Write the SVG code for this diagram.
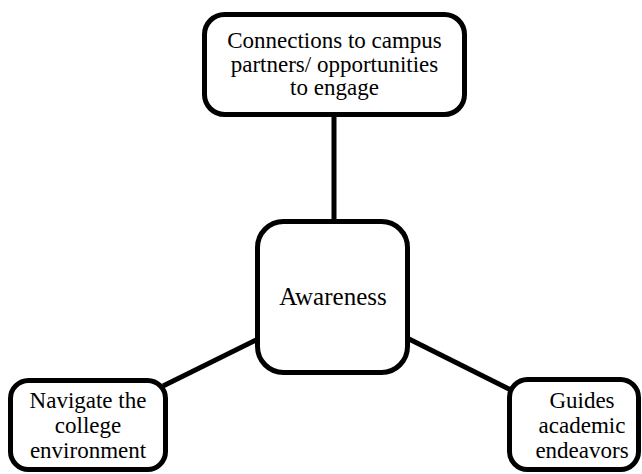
<svg xmlns="http://www.w3.org/2000/svg" width="642" height="474" viewBox="0 0 642 474">
<style>
.box{fill:#fff;stroke:#000;stroke-width:5}
.conn{stroke:#000;stroke-width:5;fill:none}
text{font-family:'Liberation Serif','DejaVu Serif',serif;fill:#000;text-anchor:middle}
.t{font-size:23px}
.c{font-size:25px}
</style>
<rect width="642" height="474" fill="#fff"/>
<g id="connectors">
<line class="conn" x1="334" y1="116" x2="334" y2="222"/>
<line class="conn" x1="163" y1="386" x2="258" y2="339"/>
<line class="conn" x1="407" y1="338" x2="511" y2="390"/>
</g>
<g id="node-top">
<rect class="box" x="204.5" y="14.5" width="260" height="100" rx="20"/>
<text class="t" x="334.5" y="48" font-family="Liberation Serif, serif">Connections to campus</text>
<text class="t" x="334.5" y="72" font-family="Liberation Serif, serif">partners/ opportunities</text>
<text class="t" x="334.5" y="95" font-family="Liberation Serif, serif">to engage</text>
</g>
<g id="node-center">
<rect class="box" x="257.5" y="221.5" width="150" height="151" rx="26"/>
<text class="c" x="333" y="305" font-family="Liberation Serif, serif">Awareness</text>
</g>
<g id="node-left">
<rect class="box" x="10.5" y="380.5" width="155" height="89" rx="18"/>
<text class="t" x="88" y="408" font-family="Liberation Serif, serif">Navigate the</text>
<text class="t" x="88" y="433" font-family="Liberation Serif, serif">college</text>
<text class="t" x="88" y="458" font-family="Liberation Serif, serif">environment</text>
</g>
<g id="node-right">
<rect class="box" x="509.5" y="379.5" width="129" height="90" rx="18"/>
<text class="t" x="582" y="408" font-family="Liberation Serif, serif">Guides</text>
<text class="t" x="582" y="433" font-family="Liberation Serif, serif">academic</text>
<text class="t" x="582" y="458" font-family="Liberation Serif, serif">endeavors</text>
</g>
</svg>
